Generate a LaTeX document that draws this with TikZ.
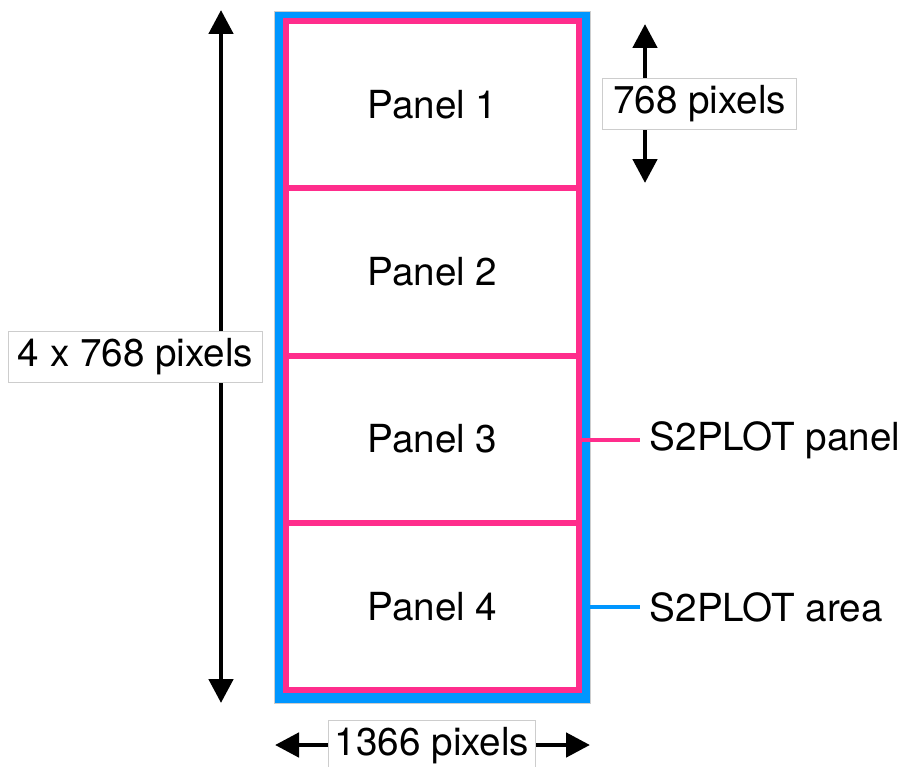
\documentclass[tikz,border=0pt]{standalone}
\usepackage{fontspec}
\setmainfont{TeX Gyre Heros}
\usetikzlibrary{arrows.meta}
\definecolor{panelpink}{RGB}{255,45,140}
\definecolor{areablue}{RGB}{0,150,255}
\definecolor{boxgray}{RGB}{205,205,205}
\tikzset{every picture/.style={line width=0.75pt}}
\tikzset{
  paneltext/.style={font=\fontsize{29}{33}\selectfont},
  panelbox/.style={paneltext, draw=panelpink, fill=white, line width=4.5pt,
    minimum width=219.75pt, minimum height=125.4pt, inner sep=0pt},
  dimlabel/.style={paneltext, draw=boxgray, fill=white, line width=0.75pt,
    minimum height=38pt, inner xsep=5pt, inner ysep=0pt},
  dimarrow/.style={line width=3.6pt, {Triangle[width=18pt,length=18pt]}-{Triangle[width=18pt,length=18pt]}},
  keylabel/.style={paneltext, anchor=west, inner sep=7pt}
}

\begin{document}
\begin{tikzpicture}[x=0.75pt,y=0.75pt,yscale=-1,xscale=1]
    \useasboundingbox (0,0) rectangle (903,767);
    % Area
    \node [fill=areablue, draw=boxgray, line width=0.6pt, minimum width=237pt, minimum height=519pt, inner sep=0pt] (area) at (432,357) {};
    % Panels
    \node [panelbox] (panel1) at (432.5,104.6) {Panel 1};
    \node [panelbox] (panel2) at (432.5,271.9) {Panel 2};
    \node [panelbox] (panel3) at (432.5,439.1) {Panel 3};
    \node [panelbox] (panel4) at (432.5,606.4) {Panel 4};
    % Height of area
    \coordinate (totaltop) at (221,10);
    \coordinate (totalbot) at (221,703);
    \draw [dimarrow] (totaltop) -- (totalbot);
    \node [dimlabel, minimum width=191pt] (totallbl) at (135.5,357) {4 x 768 pixels};
    % Height of one panel
    \coordinate (onetop) at (645,24);
    \coordinate (onebot) at (645,183);
    \draw [dimarrow] (onetop) -- (onebot);
    \node [dimlabel, minimum width=146pt] (onelbl) at (699.5,104) {768 pixels};
    % Width of area
    \coordinate (wideleft) at (275,745);
    \coordinate (wideright) at (590,745);
    \draw [dimarrow] (wideleft) -- (wideright);
    \node [dimlabel, minimum width=153pt] (widelbl) at (432,746) {1366 pixels};
    % Key
    \node [keylabel] (panelkey) at (640,440) {S2PLOT panel};
    \node [keylabel] (areakey) at (640,607) {S2PLOT area};
    % Connection
    \draw [panelpink, line width=3pt] (panelkey.west -| panel3.east) -- (panelkey.west);
    % Connection
    \draw [areablue, line width=3pt] (areakey.west -| area.east) -- (areakey.west);
\end{tikzpicture}
\end{document}
